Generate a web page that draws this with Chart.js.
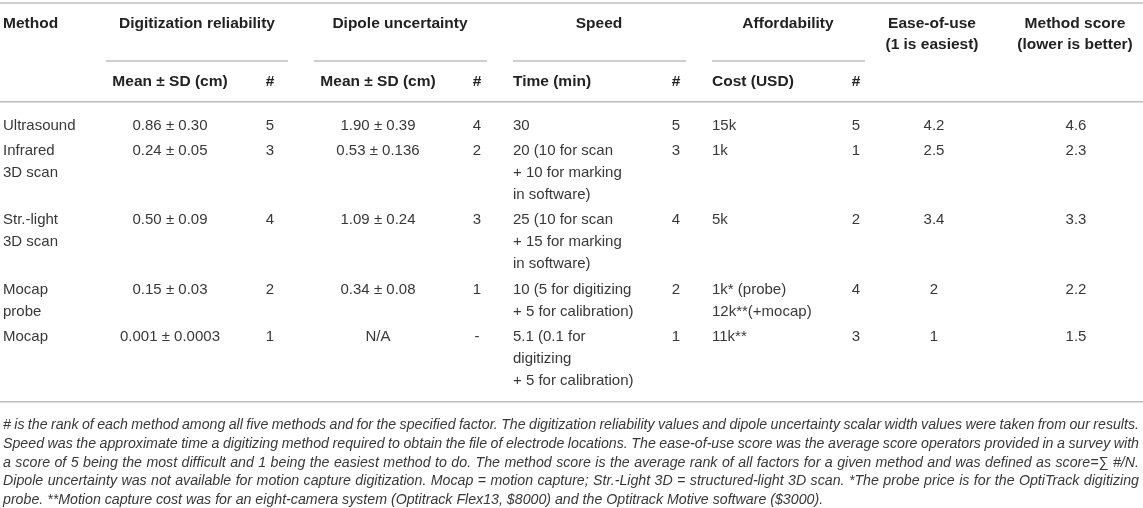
<!DOCTYPE html>
<html>
<head>
<meta charset="utf-8">
<title>Digitizing methods comparison</title>
<script src="https://cdn.jsdelivr.net/npm/chart.js@4.4.0/dist/chart.umd.min.js"></script>
<style>
  html, body { margin: 0; padding: 0; background: #fff; }
  #wrap { width: 1143px; height: 508px; }
</style>
</head>
<body>
<div id="wrap"><canvas id="tableChart" width="1143" height="508"></canvas></div>
<script>
// Table values
const methods = [['Ultrasound'], ['Infrared', '3D scan'], ['Str.-light', '3D scan'], ['Mocap', 'probe'], ['Mocap']];
const digitMean = ['0.86 ± 0.30', '0.24 ± 0.05', '0.50 ± 0.09', '0.15 ± 0.03', '0.001 ± 0.0003'];
const digitRank = ['5', '3', '4', '2', '1'];
const dipoleMean = ['1.90 ± 0.39', '0.53 ± 0.136', '1.09 ± 0.24', '0.34 ± 0.08', 'N/A'];
const dipoleRank = ['4', '2', '3', '1', '-'];
const speedTime = [
  ['30'],
  ['20 (10 for scan', '+ 10 for marking', 'in software)'],
  ['25 (10 for scan', '+ 15 for marking', 'in software)'],
  ['10 (5 for digitizing', '+ 5 for calibration)'],
  ['5.1 (0.1 for', 'digitizing', '+ 5 for calibration)']
];
const speedRank = ['5', '3', '4', '2', '1'];
const costUsd = [['15k'], ['1k'], ['5k'], ['1k* (probe)', '12k**(+mocap)'], ['11k**']];
const costRank = ['5', '1', '2', '4', '3'];
const easeOfUse = ['4.2', '2.5', '3.4', '2', '1'];
const methodScore = ['4.6', '2.3', '3.3', '2.2', '1.5'];

// Header labels
const groupHeaders = [['Method'], ['Digitization reliability'], ['Dipole uncertainty'], ['Speed'], ['Affordability'],
  ['Ease-of-use', '(1 is easiest)'], ['Method score', '(lower is better)']];
const subHeaders = ['Mean ± SD (cm)', '#', 'Mean ± SD (cm)', '#', 'Time (min)', '#', 'Cost (USD)', '#'];

const footnotes = [
  '# is the rank of each method among all five methods and for the specified factor. The digitization reliability values and dipole uncertainty scalar width values were taken from our results.',
  'Speed was the approximate time a digitizing method required to obtain the file of electrode locations. The ease-of-use score was the average score operators provided in a survey with',
  'a score of 5 being the most difficult and 1 being the easiest method to do. The method score is the average rank of all factors for a given method and was defined as score=∑ #/N.',
  'Dipole uncertainty was not available for motion capture digitization. Mocap = motion capture; Str.-Light 3D = structured-light 3D scan. *The probe price is for the OptiTrack digitizing',
  'probe. **Motion capture cost was for an eight-camera system (Optitrack Flex13, $8000) and the Optitrack Motive software ($3000).'
];

// Layout (in scale units)
const FONT = '"Liberation Sans", Arial, sans-serif';
const LINE = 22;
const HEAD_LINE = 21.5;
const ROW_GAP = 3.3;
const FIRST_ROW = 125.5;
const groupX = [[3, 'left'], [197, 'center'], [400, 'center'], [599, 'center'], [788, 'center'], [932, 'center'], [1075, 'center']];
const subX = [[170, 'center'], [270, 'center'], [378, 'center'], [477, 'center'], [513, 'left'], [676, 'center'], [712, 'left'], [856, 'center']];
const subRules = [[106, 288], [314, 487], [513, 686], [712, 865]];
const bodyCols = [
  [methods, 3, 'left'], [digitMean, 170, 'center'], [digitRank, 270, 'center'],
  [dipoleMean, 378, 'center'], [dipoleRank, 477, 'center'],
  [speedTime, 513, 'left'], [speedRank, 676, 'center'],
  [costUsd, 712, 'left'], [costRank, 856, 'center'],
  [easeOfUse, 934, 'center'], [methodScore, 1076, 'center']
];

const tablePlugin = {
  id: 'tableDraw',
  afterDraw(chart) {
    const { ctx, scales: { x, y } } = chart;
    const px = v => x.getPixelForValue(v);
    const py = v => y.getPixelForValue(v);
    ctx.save();
    ctx.textBaseline = 'middle';

    const rule = (x0, x1, yv) => {
      ctx.strokeStyle = '#bdbdbd';
      ctx.lineWidth = 1.6;
      ctx.beginPath();
      ctx.moveTo(px(x0), py(yv));
      ctx.lineTo(px(x1), py(yv));
      ctx.stroke();
    };
    const text = (s, xv, yv, align) => {
      ctx.textAlign = align;
      ctx.fillText(s, px(xv), py(yv));
    };

    // rules
    rule(0, 1143, 3);
    subRules.forEach(r => rule(r[0], r[1], 61));
    rule(0, 1143, 101.7);

    // headers
    ctx.fillStyle = '#222';
    ctx.font = 'bold 15.5px ' + FONT;
    groupHeaders.forEach((lines, i) => {
      lines.forEach((s, j) => text(s, groupX[i][0], 23.5 + j * HEAD_LINE, groupX[i][1]));
    });
    subHeaders.forEach((s, i) => text(s, subX[i][0], 82, subX[i][1]));

    // body rows
    const rowLines = methods.map((m, r) => Math.max(...bodyCols.map(c => [].concat(c[0][r]).length)));
    let rowY = FIRST_ROW;
    let lastY = rowY;
    ctx.fillStyle = '#383838';
    ctx.font = '15px ' + FONT;
    rowLines.forEach((n, r) => {
      bodyCols.forEach(([vals, xv, align]) => {
        [].concat(vals[r]).forEach((s, j) => text(s, xv, rowY + j * LINE, align));
      });
      lastY = rowY + (n - 1) * LINE;
      rowY += n * LINE + ROW_GAP;
    });
    const bottomRule = lastY + 21;
    rule(0, 1143, bottomRule);

    // footnotes, justified
    ctx.font = 'italic 14.2px ' + FONT;
    ctx.fillStyle = '#383838';
    ctx.textAlign = 'left';
    const left = 3, right = 1139;
    footnotes.forEach((s, i) => {
      const yv = bottomRule + 23.3 + i * 18.8;
      if (i === footnotes.length - 1) {
        ctx.fillText(s, px(left), py(yv));
        return;
      }
      const words = s.split(' ');
      const widths = words.map(w => ctx.measureText(w).width);
      const total = widths.reduce((a, b) => a + b, 0);
      const gap = (px(right) - px(left) - total) / (words.length - 1);
      let cx = px(left);
      words.forEach((w, k) => {
        ctx.fillText(w, cx, py(yv));
        cx += widths[k] + gap;
      });
    });
    ctx.restore();
  }
};

const ctx = document.getElementById('tableChart').getContext('2d');
new Chart(ctx, {
  type: 'scatter',
  data: { datasets: [] },
  options: {
    responsive: false,
    animation: false,
    layout: { padding: 0 },
    plugins: { legend: { display: false }, tooltip: { enabled: false } },
    scales: {
      x: { type: 'linear', min: 0, max: 1143, display: false },
      y: { type: 'linear', min: 0, max: 508, reverse: true, display: false }
    }
  },
  plugins: [tablePlugin]
});
</script>
</body>
</html>
